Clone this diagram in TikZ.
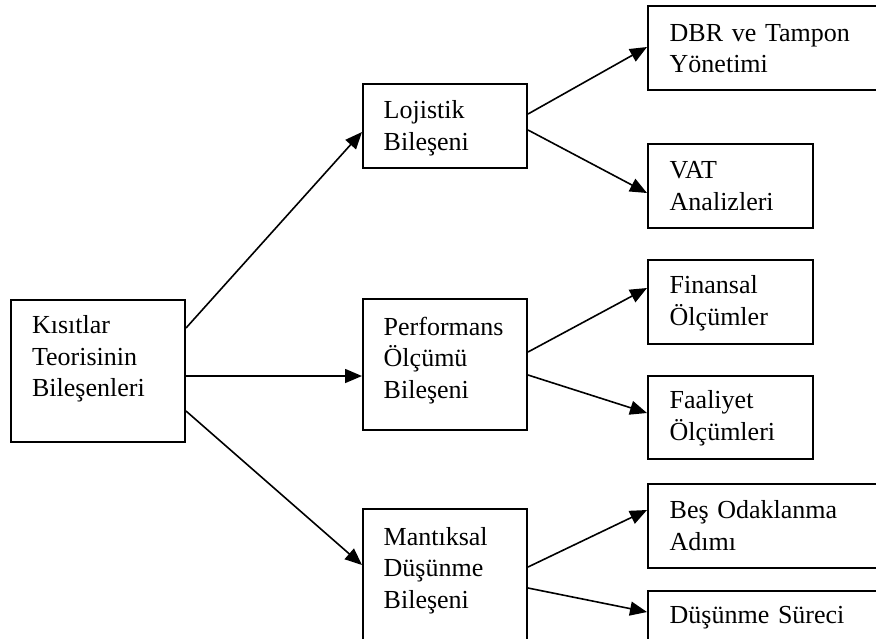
\documentclass[tikz,border=0pt]{standalone}
\usepackage{fontspec}
\setmainfont{Liberation Serif}
\usetikzlibrary{arrows.meta}
\begin{document}
\begin{tikzpicture}[x=0.5pt,y=-0.5pt,
  box/.style={draw=black,line width=1pt,anchor=north west,inner sep=0pt},
  txt/.style={anchor=base west,inner sep=0pt,text width=125pt,align=left,
    font=\fontsize{13}{15.85}\selectfont},
  arr/.style={line width=0.8pt,-{Triangle[length=8.5pt,width=7pt]}}]
\useasboundingbox (0,0) rectangle (876,638);
\clip (0,0) rectangle (876,638);

% boxes
\node[box,minimum width=87.25pt,minimum height=71pt] (root) at (9.5,299) {};
\node[box,minimum width=82pt,minimum height=42pt] (loj) at (362,83) {};
\node[box,minimum width=82pt,minimum height=65.5pt] (perf) at (362,298) {};
\node[box,minimum width=82pt,minimum height=71pt] (mant) at (362,508) {};
\node[box,minimum width=121.5pt,minimum height=42pt] (dbr) at (647,5) {};
\node[box,minimum width=82.5pt,minimum height=42pt] (vat) at (647,143) {};
\node[box,minimum width=82.5pt,minimum height=42pt] (fin) at (647,259) {};
\node[box,minimum width=82.5pt,minimum height=41.5pt] (faa) at (647,375) {};
\node[box,minimum width=121.5pt,minimum height=42pt] (bes) at (647,483) {};
\node[box,minimum width=121.5pt,minimum height=35pt] (dus) at (647,590) {};

% labels
\node[txt] (root-t) at (31.7,333.3) {Kısıtlar\\Teorisinin\\Bileşenleri};
\node[txt] (loj-t) at (383.3,118.3) {Lojistik\\Bileşeni};
\node[txt] (perf-t) at (383.3,335) {Performans\\Ölçümü\\Bileşeni};
\node[txt] (mant-t) at (383.3,545) {Mantıksal\\Düşünme\\Bileşeni};
\node[txt] (dbr-t) at (669.3,41) {DBR ve Tampon\\Yönetimi};
\node[txt] (vat-t) at (669.3,178.3) {VAT\\Analizleri};
\node[txt] (fin-t) at (669.3,293.3) {Finansal\\Ölçümler};
\node[txt] (faa-t) at (669.3,408.3) {Faaliyet\\Ölçümleri};
\node[txt] (bes-t) at (669.3,518.3) {Beş Odaklanma\\Adımı};
\node[txt] (dus-t) at (669.3,623.3) {Düşünme Süreci};

% connectors
\draw[arr] (root.east |- 0,328) -- (loj.west |- 0,132);
\draw[arr] (root.east |- 0,376) -- (perf.west |- 0,376);
\draw[arr] (root.east |- 0,411) -- (mant.west |- 0,565);
\draw[arr] (loj.east |- 0,114) -- (dbr.west |- 0,47);
\draw[arr] (loj.east |- 0,130) -- (vat.west |- 0,193);
\draw[arr] (perf.east |- 0,352) -- (fin.west |- 0,288);
\draw[arr] (perf.east |- 0,375) -- (faa.west |- 0,413);
\draw[arr] (mant.east |- 0,567) -- (bes.west |- 0,510);
\draw[arr] (mant.east |- 0,588) -- (dus.west |- 0,612);
\end{tikzpicture}
\end{document}
